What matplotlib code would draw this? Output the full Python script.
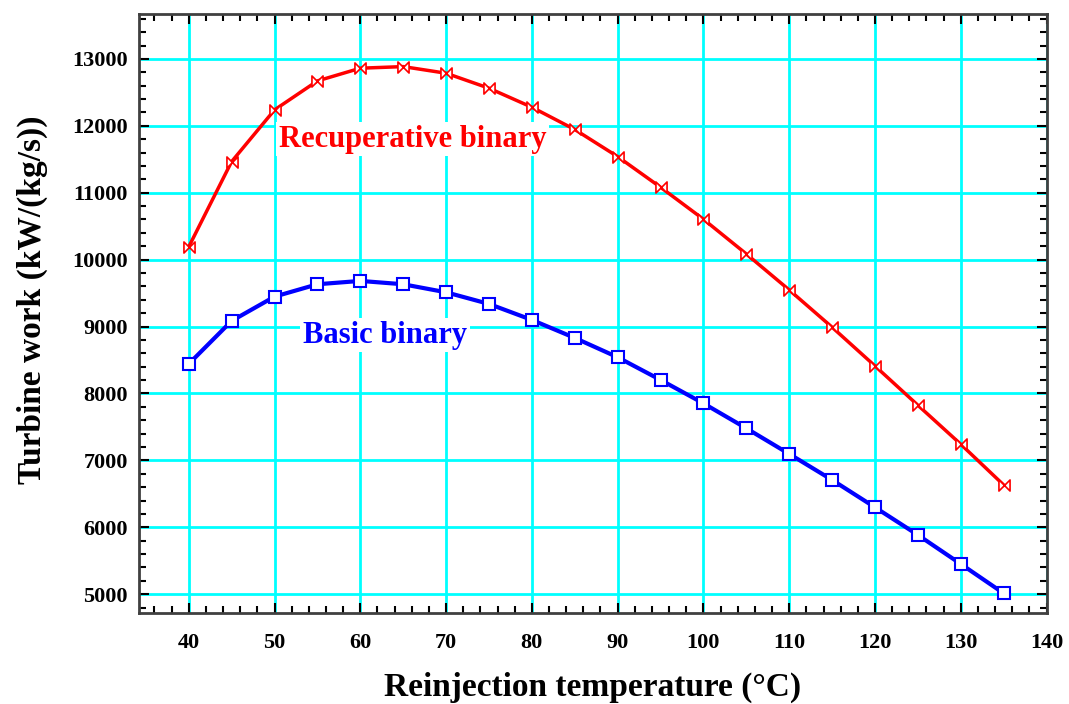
import numpy as np
import matplotlib.pyplot as plt
from matplotlib.path import Path
from matplotlib.ticker import MultipleLocator

plt.rcParams['font.family'] = ['Liberation Serif', 'DejaVu Serif']
plt.rcParams['font.weight'] = 'bold'

# reinjection temperature (C)
temps = [40, 45, 50, 55, 60, 65, 70, 75, 80, 85, 90, 95, 100, 105, 110, 115, 120, 125, 130, 135]
# turbine work kW/(kg/s)
recup_work = [10190, 11465, 12238, 12671, 12861, 12885, 12786, 12562, 12278, 11945, 11540, 11082,
              10604, 10085, 9547, 8990, 8411, 7824, 7241, 6632]
basic_work = [8441, 9084, 9447, 9632, 9682, 9632, 9512, 9338, 9099, 8830, 8541, 8202,
              7852, 7479, 7096, 6707, 6298, 5885, 5451, 5013]

# bowtie marker (two triangles meeting at the centre)
bowtie = Path([(-1, 1), (-1, -1), (1, 1), (1, -1), (-1, 1)],
              [Path.MOVETO, Path.LINETO, Path.LINETO, Path.LINETO, Path.CLOSEPOLY])

fig = plt.figure(figsize=(10.69, 7.04), dpi=100)
ax = fig.add_axes([0.130, 0.129, 0.849, 0.851])

ax.grid(True, which='major', color='#00FFFF', linewidth=2, zorder=0)
ax.set_axisbelow(True)

ax.plot(temps, recup_work, color='#FF0000', linewidth=2.5, marker=bowtie, markersize=8,
        markerfacecolor='white', markeredgecolor='#FF0000', markeredgewidth=1.2, zorder=3)
ax.plot(temps, basic_work, color='#0000FF', linewidth=3, marker='s', markersize=9,
        markerfacecolor='white', markeredgecolor='#0000FF', markeredgewidth=1.5, zorder=3)

ax.text(50.5, 11800, 'Recuperative binary', color='#FF0000', fontsize=22, fontweight='bold',
        va='center', ha='left', zorder=2,
        bbox=dict(facecolor='white', edgecolor='none', pad=2))
ax.text(53.3, 8870, 'Basic binary', color='#0000FF', fontsize=22, fontweight='bold',
        va='center', ha='left', zorder=2,
        bbox=dict(facecolor='white', edgecolor='none', pad=2))

ax.set_xlim(34.2, 140)
ax.set_ylim(4716, 13670)
ax.xaxis.set_major_locator(MultipleLocator(10))
ax.xaxis.set_minor_locator(MultipleLocator(2))
ax.yaxis.set_major_locator(MultipleLocator(1000))
ax.yaxis.set_minor_locator(MultipleLocator(200))
ax.set_xticks([40, 50, 60, 70, 80, 90, 100, 110, 120, 130, 140])

ax.tick_params(which='both', direction='in', top=True, right=True, color='black')
ax.tick_params(which='major', length=7, width=1.5, labelsize=16)
ax.tick_params(axis='x', which='major', pad=14)
ax.tick_params(axis='y', which='major', pad=8)
ax.tick_params(which='minor', length=5, width=1.5)
for lab in ax.get_xticklabels() + ax.get_yticklabels():
    lab.set_fontweight('bold')

for sp in ax.spines.values():
    sp.set_color('#404040')
    sp.set_linewidth(2)

ax.set_xlabel('Reinjection temperature (\u00b0C)', fontsize=24, fontweight='bold', labelpad=14)
ax.set_ylabel('Turbine work (kW/(kg/s))', fontsize=24, fontweight='bold')
ax.yaxis.set_label_coords(-0.10, 0.523)

fig.savefig('out.png', dpi=100)
